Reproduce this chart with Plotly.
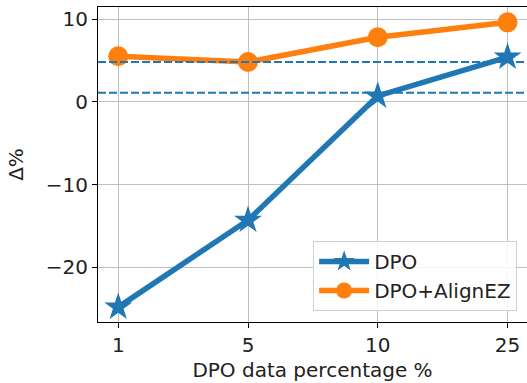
import plotly.graph_objects as go

categories = ["1", "5", "10", "25"]
dpo = [-24.8, -14.3, 0.7, 5.4]
dpo_alignez = [5.5, 4.8, 7.8, 9.6]
ref_lines = [4.8, 1.1]
y_ticks = [10, 0, -10, -20]
y_tick_text = ["10", "0", "\u221210", "\u221220"]

BLUE = "#1f77b4"
ORANGE = "#ff7f0e"
FS = 20
xs = list(range(len(categories)))

fig = go.Figure()
for v in ref_lines:
    fig.add_hline(y=v, line=dict(color=BLUE, width=2, dash="8px,3px"), layer="above")

fig.add_trace(go.Scatter(x=xs, y=dpo, mode="lines+markers", name="DPO",
                         line=dict(color=BLUE, width=5.5),
                         marker=dict(symbol="star", size=21, color=BLUE)))
fig.add_trace(go.Scatter(x=xs, y=dpo_alignez, mode="lines+markers", name="DPO+AlignEZ",
                         line=dict(color=ORANGE, width=5.5),
                         marker=dict(symbol="circle", size=20, color=ORANGE)))

axis_common = dict(showline=True, linecolor="black", linewidth=1.2, mirror=True,
                   showgrid=True, gridcolor="#c0c0c0", gridwidth=1,
                   ticks="outside", ticklen=5, tickcolor="black", zeroline=False,
                   tickfont=dict(size=FS, color="#222"))

fig.update_layout(
    width=527, height=383,
    margin=dict(l=98, r=0, t=7, b=61),
    paper_bgcolor="white", plot_bgcolor="white",
    font=dict(family="DejaVu Sans", size=FS, color="#222"),
    showlegend=True,
    legend=dict(x=0.977, y=0.035, xanchor="right", yanchor="bottom",
                bgcolor="rgba(255,255,255,0.85)", bordercolor="#d0d0d0", borderwidth=1,
                font=dict(size=FS), itemwidth=50, tracegroupgap=0),
    xaxis=dict(range=[-0.156, 3.15], tickmode="array", tickvals=xs, ticktext=categories,
               title=dict(text="DPO data percentage %", font=dict(size=FS), standoff=6),
               **axis_common),
    yaxis=dict(range=[-26.6, 11.45], tickmode="array", tickvals=y_ticks, ticktext=y_tick_text,
               title=dict(text="\u0394%", font=dict(size=FS), standoff=16),
               **axis_common),
)

fig.write_html("out.html", post_script="document.body.style.margin='0px';",
               config={"displayModeBar": False})
